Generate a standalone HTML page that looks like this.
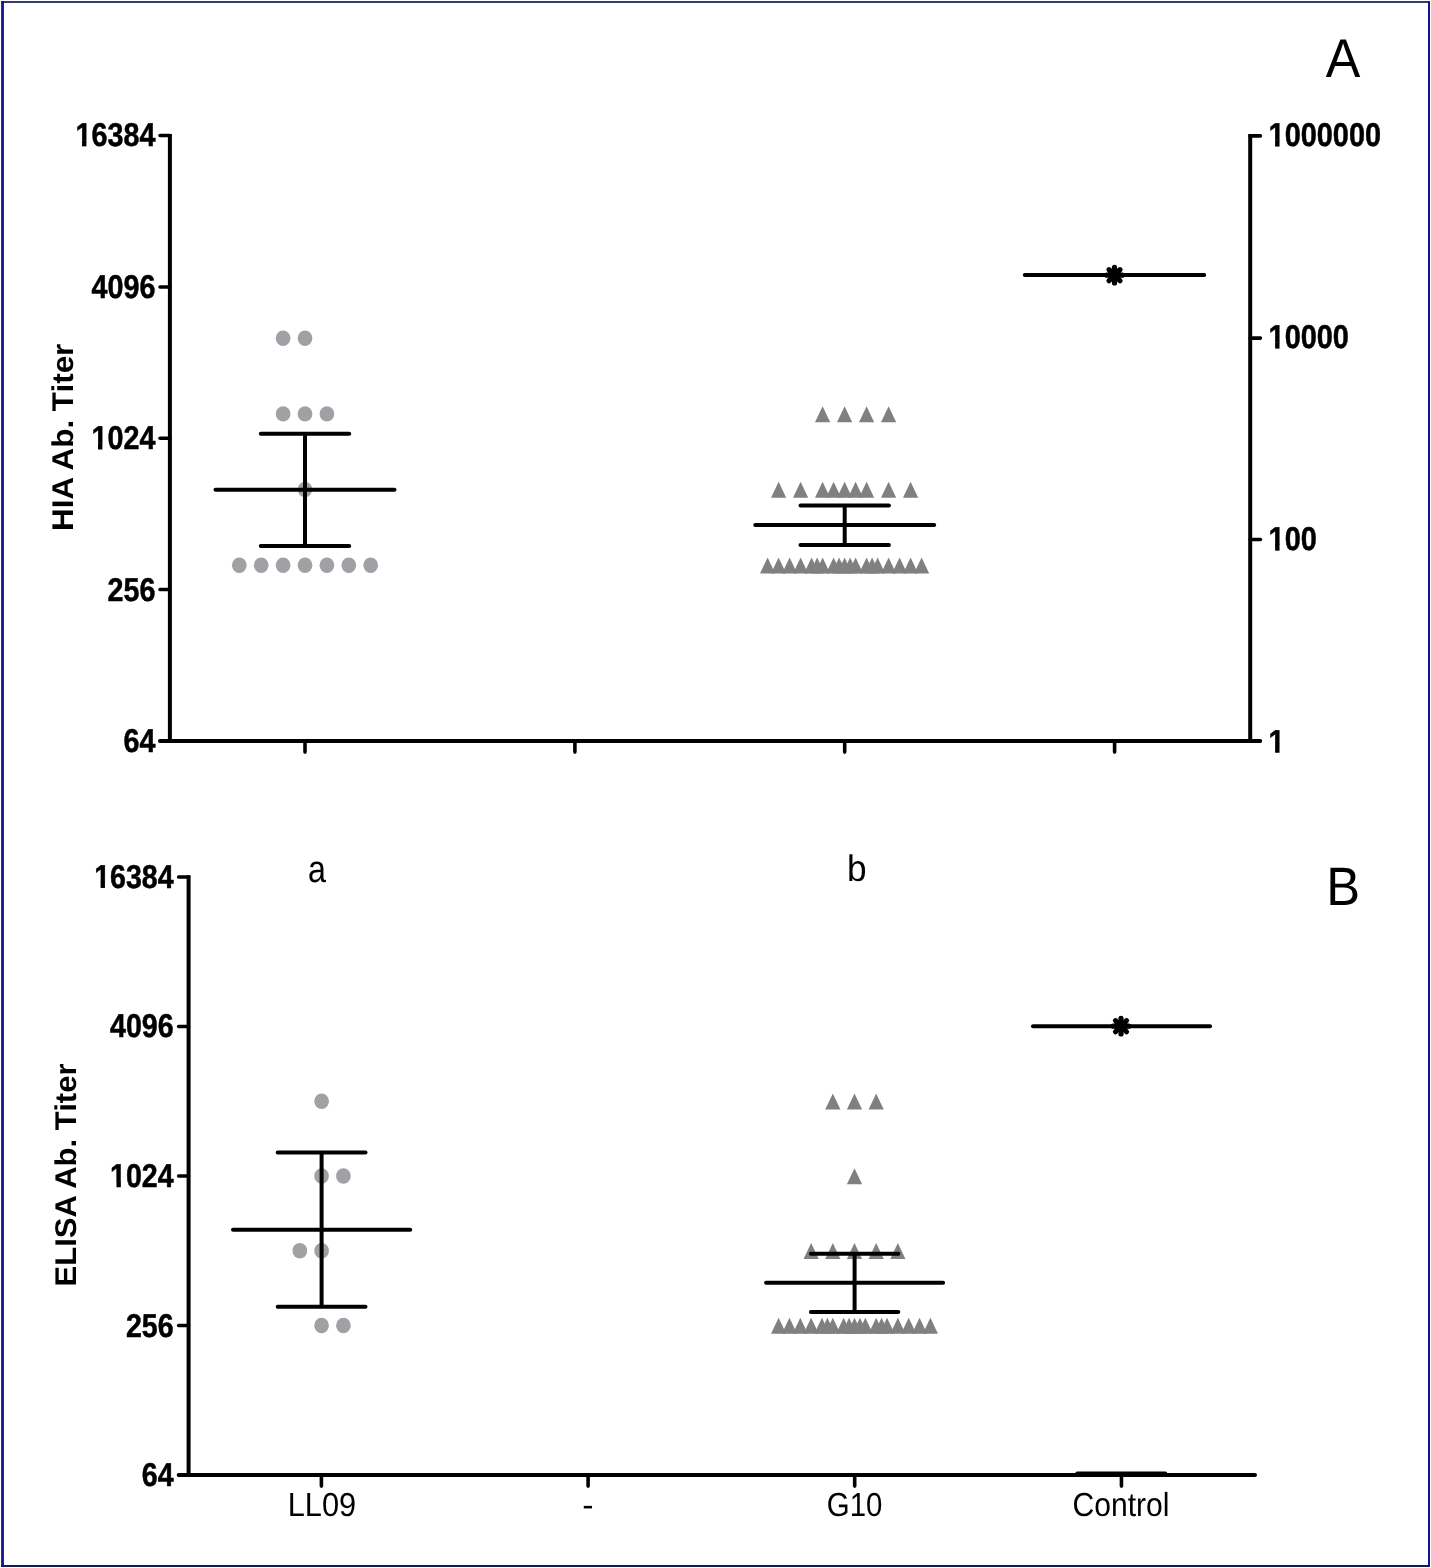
<!DOCTYPE html>
<html><head><meta charset="utf-8"><title>Figure</title>
<style>
html,body{margin:0;padding:0;background:#fff;}
body{width:1431px;height:1568px;overflow:hidden;font-family:"Liberation Sans", sans-serif;}
svg{display:block;will-change:transform;}
text{text-rendering:geometricPrecision;}
</style></head><body>
<svg width="1431" height="1568" viewBox="0 0 1431 1568">
<rect x="0" y="0" width="1431" height="1568" fill="#fff"/>
<rect x="1.15" y="1.15" width="2.75" height="1565.85" fill="#121290"/><rect x="1428" y="1.15" width="2" height="1565.85" fill="#121290"/><rect x="1.15" y="1.15" width="1428.85" height="1.7" fill="#141a55"/><rect x="1.15" y="1565" width="1428.85" height="2" fill="#141a55"/>
<defs><clipPath id="c1"><rect x="-3" y="-32" width="28" height="26.5"/></clipPath></defs>
<ellipse cx="283.10" cy="338.23" rx="7.35" ry="7.7" fill="#a0a0a5"/>
<ellipse cx="305.00" cy="338.23" rx="7.35" ry="7.7" fill="#a0a0a5"/>
<ellipse cx="283.10" cy="413.89" rx="7.35" ry="7.7" fill="#a0a0a5"/>
<ellipse cx="305.00" cy="413.89" rx="7.35" ry="7.7" fill="#a0a0a5"/>
<ellipse cx="326.90" cy="413.89" rx="7.35" ry="7.7" fill="#a0a0a5"/>
<ellipse cx="305.00" cy="489.55" rx="7.35" ry="7.7" fill="#a0a0a5"/>
<ellipse cx="239.30" cy="565.22" rx="7.35" ry="7.7" fill="#a0a0a5"/>
<ellipse cx="261.20" cy="565.22" rx="7.35" ry="7.7" fill="#a0a0a5"/>
<ellipse cx="283.10" cy="565.22" rx="7.35" ry="7.7" fill="#a0a0a5"/>
<ellipse cx="305.00" cy="565.22" rx="7.35" ry="7.7" fill="#a0a0a5"/>
<ellipse cx="326.90" cy="565.22" rx="7.35" ry="7.7" fill="#a0a0a5"/>
<ellipse cx="348.80" cy="565.22" rx="7.35" ry="7.7" fill="#a0a0a5"/>
<ellipse cx="370.70" cy="565.22" rx="7.35" ry="7.7" fill="#a0a0a5"/>
<path d="M822.60 406.19L830.20 422.19L815.00 422.19Z" fill="#808080"/>
<path d="M844.60 406.19L852.20 422.19L837.00 422.19Z" fill="#808080"/>
<path d="M866.60 406.19L874.20 422.19L859.00 422.19Z" fill="#808080"/>
<path d="M888.60 406.19L896.20 422.19L881.00 422.19Z" fill="#808080"/>
<path d="M778.60 481.85L786.20 497.85L771.00 497.85Z" fill="#808080"/>
<path d="M800.60 481.85L808.20 497.85L793.00 497.85Z" fill="#808080"/>
<path d="M822.60 481.85L830.20 497.85L815.00 497.85Z" fill="#808080"/>
<path d="M833.60 481.85L841.20 497.85L826.00 497.85Z" fill="#808080"/>
<path d="M844.60 481.85L852.20 497.85L837.00 497.85Z" fill="#808080"/>
<path d="M855.60 481.85L863.20 497.85L848.00 497.85Z" fill="#808080"/>
<path d="M866.60 481.85L874.20 497.85L859.00 497.85Z" fill="#808080"/>
<path d="M888.60 481.85L896.20 497.85L881.00 497.85Z" fill="#808080"/>
<path d="M910.60 481.85L918.20 497.85L903.00 497.85Z" fill="#808080"/>
<path d="M767.60 557.52L775.20 573.52L760.00 573.52Z" fill="#808080"/>
<path d="M778.60 557.52L786.20 573.52L771.00 573.52Z" fill="#808080"/>
<path d="M789.60 557.52L797.20 573.52L782.00 573.52Z" fill="#808080"/>
<path d="M800.60 557.52L808.20 573.52L793.00 573.52Z" fill="#808080"/>
<path d="M811.60 557.52L819.20 573.52L804.00 573.52Z" fill="#808080"/>
<path d="M822.60 557.52L830.20 573.52L815.00 573.52Z" fill="#808080"/>
<path d="M833.60 557.52L841.20 573.52L826.00 573.52Z" fill="#808080"/>
<path d="M844.60 557.52L852.20 573.52L837.00 573.52Z" fill="#808080"/>
<path d="M855.60 557.52L863.20 573.52L848.00 573.52Z" fill="#808080"/>
<path d="M866.60 557.52L874.20 573.52L859.00 573.52Z" fill="#808080"/>
<path d="M877.60 557.52L885.20 573.52L870.00 573.52Z" fill="#808080"/>
<path d="M888.60 557.52L896.20 573.52L881.00 573.52Z" fill="#808080"/>
<path d="M899.60 557.52L907.20 573.52L892.00 573.52Z" fill="#808080"/>
<path d="M910.60 557.52L918.20 573.52L903.00 573.52Z" fill="#808080"/>
<path d="M921.60 557.52L929.20 573.52L914.00 573.52Z" fill="#808080"/>
<path d="M817.10 557.52L824.70 573.52L809.50 573.52Z" fill="#808080"/>
<path d="M839.10 557.52L846.70 573.52L831.50 573.52Z" fill="#808080"/>
<path d="M850.10 557.52L857.70 573.52L842.50 573.52Z" fill="#808080"/>
<path d="M872.10 557.52L879.70 573.52L864.50 573.52Z" fill="#808080"/>
<line x1="305.00" y1="433.70" x2="305.00" y2="546.00" stroke="#000" stroke-width="4" stroke-linecap="butt"/>
<line x1="260.80" y1="433.70" x2="349.20" y2="433.70" stroke="#000" stroke-width="4" stroke-linecap="round"/>
<line x1="260.80" y1="546.00" x2="349.20" y2="546.00" stroke="#000" stroke-width="4" stroke-linecap="round"/>
<line x1="215.50" y1="489.80" x2="394.50" y2="489.80" stroke="#000" stroke-width="4" stroke-linecap="round"/>
<line x1="844.70" y1="505.50" x2="844.70" y2="544.90" stroke="#000" stroke-width="4" stroke-linecap="butt"/>
<line x1="800.50" y1="505.50" x2="888.90" y2="505.50" stroke="#000" stroke-width="4" stroke-linecap="round"/>
<line x1="800.50" y1="544.90" x2="888.90" y2="544.90" stroke="#000" stroke-width="4" stroke-linecap="round"/>
<line x1="755.20" y1="525.10" x2="934.20" y2="525.10" stroke="#000" stroke-width="4" stroke-linecap="round"/>
<line x1="1024.80" y1="275.00" x2="1204.20" y2="275.00" stroke="#000" stroke-width="4" stroke-linecap="round"/>
<line x1="1106.70" y1="275.20" x2="1122.30" y2="275.20" stroke="#000" stroke-width="5.2" stroke-linecap="round"/>
<line x1="1108.98" y1="269.68" x2="1120.02" y2="280.72" stroke="#000" stroke-width="5.2" stroke-linecap="round"/>
<line x1="1114.50" y1="267.40" x2="1114.50" y2="283.00" stroke="#000" stroke-width="5.2" stroke-linecap="round"/>
<line x1="1120.02" y1="269.68" x2="1108.98" y2="280.72" stroke="#000" stroke-width="5.2" stroke-linecap="round"/>
<line x1="169.90" y1="133.90" x2="169.90" y2="740.90" stroke="#000" stroke-width="4" stroke-linecap="butt"/>
<line x1="1250.20" y1="134.10" x2="1250.20" y2="740.90" stroke="#000" stroke-width="4" stroke-linecap="butt"/>
<line x1="160.00" y1="740.95" x2="1260.20" y2="741.05" stroke="#000" stroke-width="4" stroke-linecap="round"/>
<line x1="160.00" y1="135.60" x2="169.90" y2="135.60" stroke="#000" stroke-width="3.5" stroke-linecap="round"/>
<line x1="160.00" y1="286.93" x2="169.90" y2="286.93" stroke="#000" stroke-width="3.5" stroke-linecap="round"/>
<line x1="160.00" y1="438.25" x2="169.90" y2="438.25" stroke="#000" stroke-width="3.5" stroke-linecap="round"/>
<line x1="160.00" y1="589.58" x2="169.90" y2="589.58" stroke="#000" stroke-width="3.5" stroke-linecap="round"/>
<line x1="1250.20" y1="539.50" x2="1260.40" y2="539.50" stroke="#000" stroke-width="3.6" stroke-linecap="round"/>
<line x1="1250.20" y1="338.10" x2="1260.40" y2="338.10" stroke="#000" stroke-width="3.6" stroke-linecap="round"/>
<line x1="1250.20" y1="135.90" x2="1260.40" y2="135.90" stroke="#000" stroke-width="3.6" stroke-linecap="round"/>
<line x1="305.00" y1="740.90" x2="305.00" y2="752.10" stroke="#000" stroke-width="3.6" stroke-linecap="round"/>
<line x1="574.90" y1="740.90" x2="574.90" y2="752.10" stroke="#000" stroke-width="3.6" stroke-linecap="round"/>
<line x1="844.70" y1="740.90" x2="844.70" y2="752.10" stroke="#000" stroke-width="3.6" stroke-linecap="round"/>
<line x1="1114.60" y1="740.90" x2="1114.60" y2="752.10" stroke="#000" stroke-width="3.6" stroke-linecap="round"/>
<g transform="translate(75.56,146.10) scale(0.87,1)"><text clip-path="url(#c1)" font-family='"Liberation Sans", sans-serif' font-size="33.0" font-weight="bold" fill="#000" stroke="#000" stroke-width="0.5" stroke-linejoin="round">1</text><rect x="7.45" y="-5.9" width="5.03" height="6.15" fill="#000"/></g>
<text transform="translate(91.53,146.10) scale(0.87,1)" font-family='"Liberation Sans", sans-serif' font-size="33.0" font-weight="bold" fill="#000" stroke="#000" stroke-width="0.5" stroke-linejoin="round">6384</text>
<text transform="translate(91.53,297.73) scale(0.87,1)" font-family='"Liberation Sans", sans-serif' font-size="33.0" font-weight="bold" fill="#000" stroke="#000" stroke-width="0.5" stroke-linejoin="round">4096</text>
<g transform="translate(91.53,449.25) scale(0.87,1)"><text clip-path="url(#c1)" font-family='"Liberation Sans", sans-serif' font-size="33.0" font-weight="bold" fill="#000" stroke="#000" stroke-width="0.5" stroke-linejoin="round">1</text><rect x="7.45" y="-5.9" width="5.03" height="6.15" fill="#000"/></g>
<text transform="translate(107.50,449.25) scale(0.87,1)" font-family='"Liberation Sans", sans-serif' font-size="33.0" font-weight="bold" fill="#000" stroke="#000" stroke-width="0.5" stroke-linejoin="round">024</text>
<text transform="translate(107.50,600.83) scale(0.87,1)" font-family='"Liberation Sans", sans-serif' font-size="33.0" font-weight="bold" fill="#000" stroke="#000" stroke-width="0.5" stroke-linejoin="round">256</text>
<text transform="translate(123.47,752.40) scale(0.87,1)" font-family='"Liberation Sans", sans-serif' font-size="33.0" font-weight="bold" fill="#000" stroke="#000" stroke-width="0.5" stroke-linejoin="round">64</text>
<g transform="translate(1268.60,752.50) scale(0.875,1)"><text clip-path="url(#c1)" font-family='"Liberation Sans", sans-serif' font-size="33.0" font-weight="bold" fill="#000" stroke="#000" stroke-width="0.5" stroke-linejoin="round">1</text><rect x="7.45" y="-5.9" width="5.03" height="6.15" fill="#000"/></g>
<g transform="translate(1268.60,550.43) scale(0.875,1)"><text clip-path="url(#c1)" font-family='"Liberation Sans", sans-serif' font-size="33.0" font-weight="bold" fill="#000" stroke="#000" stroke-width="0.5" stroke-linejoin="round">1</text><rect x="7.45" y="-5.9" width="5.03" height="6.15" fill="#000"/></g>
<text transform="translate(1284.66,550.43) scale(0.875,1)" font-family='"Liberation Sans", sans-serif' font-size="33.0" font-weight="bold" fill="#000" stroke="#000" stroke-width="0.5" stroke-linejoin="round">00</text>
<g transform="translate(1268.60,348.37) scale(0.875,1)"><text clip-path="url(#c1)" font-family='"Liberation Sans", sans-serif' font-size="33.0" font-weight="bold" fill="#000" stroke="#000" stroke-width="0.5" stroke-linejoin="round">1</text><rect x="7.45" y="-5.9" width="5.03" height="6.15" fill="#000"/></g>
<text transform="translate(1284.66,348.37) scale(0.875,1)" font-family='"Liberation Sans", sans-serif' font-size="33.0" font-weight="bold" fill="#000" stroke="#000" stroke-width="0.5" stroke-linejoin="round">0000</text>
<g transform="translate(1268.60,146.30) scale(0.875,1)"><text clip-path="url(#c1)" font-family='"Liberation Sans", sans-serif' font-size="33.0" font-weight="bold" fill="#000" stroke="#000" stroke-width="0.5" stroke-linejoin="round">1</text><rect x="7.45" y="-5.9" width="5.03" height="6.15" fill="#000"/></g>
<text transform="translate(1284.66,146.30) scale(0.875,1)" font-family='"Liberation Sans", sans-serif' font-size="33.0" font-weight="bold" fill="#000" stroke="#000" stroke-width="0.5" stroke-linejoin="round">000000</text>
<text transform="translate(72.80,437.30) scale(0.955,1) rotate(-90)" font-family='"Liberation Sans", sans-serif' font-size="31.4" font-weight="bold" text-anchor="middle" fill="#000">HIA Ab. Titer</text>
<text transform="translate(1342.90,77.00) scale(0.95,1)" font-family='"Liberation Sans", sans-serif' font-size="54.5" font-weight="normal" text-anchor="middle" fill="#000">A</text>
<ellipse cx="321.60" cy="1101.21" rx="7.35" ry="7.7" fill="#a0a0a5"/>
<ellipse cx="321.60" cy="1175.97" rx="7.35" ry="7.7" fill="#a0a0a5"/>
<ellipse cx="343.40" cy="1175.97" rx="7.35" ry="7.7" fill="#a0a0a5"/>
<ellipse cx="299.80" cy="1250.74" rx="7.35" ry="7.7" fill="#a0a0a5"/>
<ellipse cx="321.60" cy="1250.74" rx="7.35" ry="7.7" fill="#a0a0a5"/>
<ellipse cx="321.60" cy="1325.51" rx="7.35" ry="7.7" fill="#a0a0a5"/>
<ellipse cx="343.40" cy="1325.51" rx="7.35" ry="7.7" fill="#a0a0a5"/>
<path d="M832.82 1093.51L840.42 1109.51L825.22 1109.51Z" fill="#808080"/>
<path d="M854.50 1093.51L862.10 1109.51L846.90 1109.51Z" fill="#808080"/>
<path d="M876.18 1093.51L883.78 1109.51L868.58 1109.51Z" fill="#808080"/>
<path d="M854.50 1168.27L862.10 1184.27L846.90 1184.27Z" fill="#808080"/>
<path d="M811.14 1243.04L818.74 1259.04L803.54 1259.04Z" fill="#808080"/>
<path d="M832.82 1243.04L840.42 1259.04L825.22 1259.04Z" fill="#808080"/>
<path d="M854.50 1243.04L862.10 1259.04L846.90 1259.04Z" fill="#808080"/>
<path d="M876.18 1243.04L883.78 1259.04L868.58 1259.04Z" fill="#808080"/>
<path d="M897.86 1243.04L905.46 1259.04L890.26 1259.04Z" fill="#808080"/>
<path d="M778.62 1317.81L786.22 1333.81L771.02 1333.81Z" fill="#808080"/>
<path d="M789.46 1317.81L797.06 1333.81L781.86 1333.81Z" fill="#808080"/>
<path d="M800.30 1317.81L807.90 1333.81L792.70 1333.81Z" fill="#808080"/>
<path d="M811.14 1317.81L818.74 1333.81L803.54 1333.81Z" fill="#808080"/>
<path d="M821.98 1317.81L829.58 1333.81L814.38 1333.81Z" fill="#808080"/>
<path d="M832.82 1317.81L840.42 1333.81L825.22 1333.81Z" fill="#808080"/>
<path d="M843.66 1317.81L851.26 1333.81L836.06 1333.81Z" fill="#808080"/>
<path d="M854.50 1317.81L862.10 1333.81L846.90 1333.81Z" fill="#808080"/>
<path d="M865.34 1317.81L872.94 1333.81L857.74 1333.81Z" fill="#808080"/>
<path d="M876.18 1317.81L883.78 1333.81L868.58 1333.81Z" fill="#808080"/>
<path d="M887.02 1317.81L894.62 1333.81L879.42 1333.81Z" fill="#808080"/>
<path d="M897.86 1317.81L905.46 1333.81L890.26 1333.81Z" fill="#808080"/>
<path d="M908.70 1317.81L916.30 1333.81L901.10 1333.81Z" fill="#808080"/>
<path d="M919.54 1317.81L927.14 1333.81L911.94 1333.81Z" fill="#808080"/>
<path d="M930.38 1317.81L937.98 1333.81L922.78 1333.81Z" fill="#808080"/>
<path d="M827.40 1317.81L835.00 1333.81L819.80 1333.81Z" fill="#808080"/>
<path d="M849.08 1317.81L856.68 1333.81L841.48 1333.81Z" fill="#808080"/>
<path d="M859.92 1317.81L867.52 1333.81L852.32 1333.81Z" fill="#808080"/>
<path d="M881.60 1317.81L889.20 1333.81L874.00 1333.81Z" fill="#808080"/>
<line x1="321.60" y1="1152.60" x2="321.60" y2="1306.70" stroke="#000" stroke-width="4" stroke-linecap="butt"/>
<line x1="277.70" y1="1152.60" x2="365.50" y2="1152.60" stroke="#000" stroke-width="4" stroke-linecap="round"/>
<line x1="277.70" y1="1306.70" x2="365.50" y2="1306.70" stroke="#000" stroke-width="4" stroke-linecap="round"/>
<line x1="233.00" y1="1229.70" x2="410.20" y2="1229.70" stroke="#000" stroke-width="4" stroke-linecap="round"/>
<line x1="854.60" y1="1253.80" x2="854.60" y2="1311.90" stroke="#000" stroke-width="4" stroke-linecap="butt"/>
<line x1="810.90" y1="1253.80" x2="898.30" y2="1253.80" stroke="#000" stroke-width="4" stroke-linecap="round"/>
<line x1="810.90" y1="1311.90" x2="898.30" y2="1311.90" stroke="#000" stroke-width="4" stroke-linecap="round"/>
<line x1="766.10" y1="1282.80" x2="943.10" y2="1282.80" stroke="#000" stroke-width="4" stroke-linecap="round"/>
<line x1="1033.00" y1="1026.20" x2="1210.00" y2="1026.20" stroke="#000" stroke-width="4" stroke-linecap="round"/>
<line x1="1113.20" y1="1026.20" x2="1128.80" y2="1026.20" stroke="#000" stroke-width="5.2" stroke-linecap="round"/>
<line x1="1115.48" y1="1020.68" x2="1126.52" y2="1031.72" stroke="#000" stroke-width="5.2" stroke-linecap="round"/>
<line x1="1121.00" y1="1018.40" x2="1121.00" y2="1034.00" stroke="#000" stroke-width="5.2" stroke-linecap="round"/>
<line x1="1126.52" y1="1020.68" x2="1115.48" y2="1031.72" stroke="#000" stroke-width="5.2" stroke-linecap="round"/>
<line x1="1077.30" y1="1473.40" x2="1165.30" y2="1473.40" stroke="#000" stroke-width="4" stroke-linecap="round"/>
<line x1="188.60" y1="875.20" x2="188.60" y2="1475.05" stroke="#000" stroke-width="4" stroke-linecap="butt"/>
<line x1="178.70" y1="1475.05" x2="1255.00" y2="1475.05" stroke="#000" stroke-width="4" stroke-linecap="round"/>
<line x1="178.60" y1="876.90" x2="188.60" y2="876.90" stroke="#000" stroke-width="3.5" stroke-linecap="round"/>
<line x1="178.60" y1="1026.44" x2="188.60" y2="1026.44" stroke="#000" stroke-width="3.5" stroke-linecap="round"/>
<line x1="178.60" y1="1175.97" x2="188.60" y2="1175.97" stroke="#000" stroke-width="3.5" stroke-linecap="round"/>
<line x1="178.60" y1="1325.51" x2="188.60" y2="1325.51" stroke="#000" stroke-width="3.5" stroke-linecap="round"/>
<line x1="321.40" y1="1475.05" x2="321.40" y2="1486.10" stroke="#000" stroke-width="3.6" stroke-linecap="round"/>
<line x1="588.10" y1="1475.05" x2="588.10" y2="1486.10" stroke="#000" stroke-width="3.6" stroke-linecap="round"/>
<line x1="854.70" y1="1475.05" x2="854.70" y2="1486.10" stroke="#000" stroke-width="3.6" stroke-linecap="round"/>
<line x1="1121.45" y1="1475.05" x2="1121.45" y2="1486.10" stroke="#000" stroke-width="3.6" stroke-linecap="round"/>
<g transform="translate(94.13,887.70) scale(0.866,1)"><text clip-path="url(#c1)" font-family='"Liberation Sans", sans-serif' font-size="33.0" font-weight="bold" fill="#000" stroke="#000" stroke-width="0.5" stroke-linejoin="round">1</text><rect x="7.45" y="-5.9" width="5.03" height="6.15" fill="#000"/></g>
<text transform="translate(110.03,887.70) scale(0.866,1)" font-family='"Liberation Sans", sans-serif' font-size="33.0" font-weight="bold" fill="#000" stroke="#000" stroke-width="0.5" stroke-linejoin="round">6384</text>
<text transform="translate(110.03,1037.39) scale(0.866,1)" font-family='"Liberation Sans", sans-serif' font-size="33.0" font-weight="bold" fill="#000" stroke="#000" stroke-width="0.5" stroke-linejoin="round">4096</text>
<g transform="translate(110.03,1187.02) scale(0.866,1)"><text clip-path="url(#c1)" font-family='"Liberation Sans", sans-serif' font-size="33.0" font-weight="bold" fill="#000" stroke="#000" stroke-width="0.5" stroke-linejoin="round">1</text><rect x="7.45" y="-5.9" width="5.03" height="6.15" fill="#000"/></g>
<text transform="translate(125.92,1187.02) scale(0.866,1)" font-family='"Liberation Sans", sans-serif' font-size="33.0" font-weight="bold" fill="#000" stroke="#000" stroke-width="0.5" stroke-linejoin="round">024</text>
<text transform="translate(125.92,1336.66) scale(0.866,1)" font-family='"Liberation Sans", sans-serif' font-size="33.0" font-weight="bold" fill="#000" stroke="#000" stroke-width="0.5" stroke-linejoin="round">256</text>
<text transform="translate(141.81,1486.30) scale(0.866,1)" font-family='"Liberation Sans", sans-serif' font-size="33.0" font-weight="bold" fill="#000" stroke="#000" stroke-width="0.5" stroke-linejoin="round">64</text>
<text transform="translate(75.60,1175.00) scale(0.965,1) rotate(-90)" font-family='"Liberation Sans", sans-serif' font-size="31.05" font-weight="bold" text-anchor="middle" fill="#000">ELISA Ab. Titer</text>
<text transform="translate(1343.20,904.80) scale(0.94,1)" font-family='"Liberation Sans", sans-serif' font-size="54" font-weight="normal" text-anchor="middle" fill="#000">B</text>
<text transform="translate(321.90,1515.80) scale(0.924,1)" font-family='"Liberation Sans", sans-serif' font-size="33.3" font-weight="normal" text-anchor="middle" fill="#000">LL09</text>
<text transform="translate(588.00,1515.80) scale(1.02,1)" font-family='"Liberation Sans", sans-serif' font-size="33.3" font-weight="normal" text-anchor="middle" fill="#000">-</text>
<text transform="translate(854.60,1515.80) scale(0.884,1)" font-family='"Liberation Sans", sans-serif' font-size="33.3" font-weight="normal" text-anchor="middle" fill="#000">G10</text>
<text transform="translate(1121.00,1515.80) scale(0.903,1)" font-family='"Liberation Sans", sans-serif' font-size="33.3" font-weight="normal" text-anchor="middle" fill="#000">Control</text>
<text transform="translate(317.10,882.40) scale(0.85,1)" font-family='"Liberation Sans", sans-serif' font-size="38" font-weight="normal" text-anchor="middle" fill="#000">a</text>
<text transform="translate(856.70,880.50) scale(0.95,1)" font-family='"Liberation Sans", sans-serif' font-size="37" font-weight="normal" text-anchor="middle" fill="#000">b</text>
</svg>
</body></html>
